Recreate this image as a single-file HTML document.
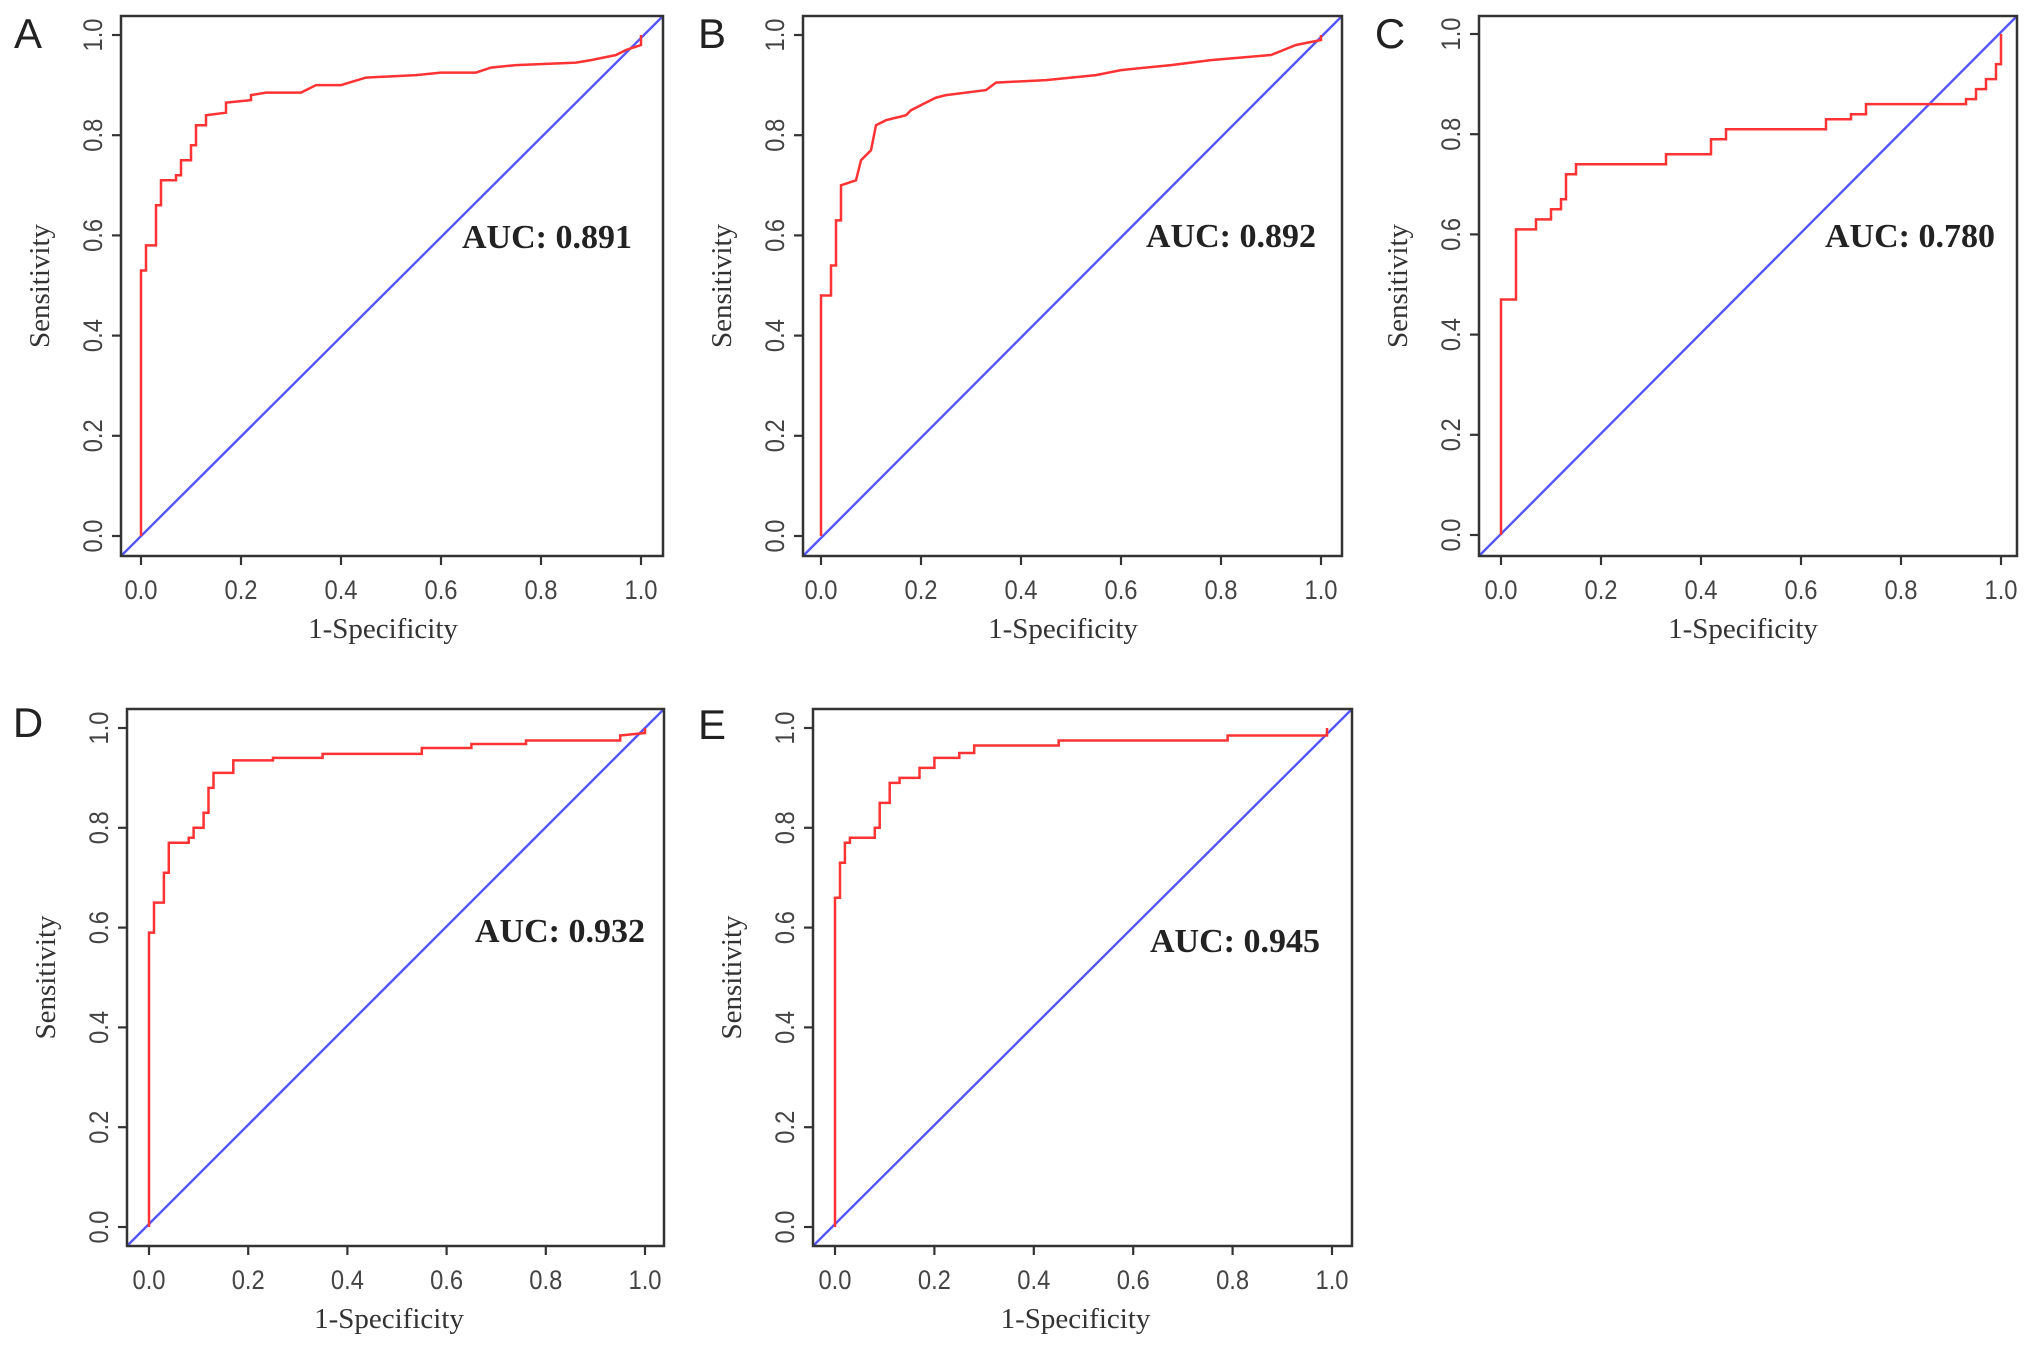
<!DOCTYPE html>
<html><head><meta charset="utf-8"><style>
body{margin:0;background:#fff;width:2031px;height:1350px;overflow:hidden}
svg{display:block}
</style></head><body>
<svg id="fig" width="2031" height="1350" viewBox="0 0 2031 1350" xmlns="http://www.w3.org/2000/svg"></svg>
<script>
const panelLetters = ["A","B","C","D","E"];
const aucLabels = ["AUC: 0.891","AUC: 0.892","AUC: 0.780","AUC: 0.932","AUC: 0.945"];
const tickValues = [0,0.2,0.4,0.6,0.8,1.0];
const tickLabels = ["0.0","0.2","0.4","0.6","0.8","1.0"];
const fprA = [0,0,0.01,0.01,0.03,0.03,0.04,0.04,0.07,0.07,0.08,0.08,0.1,0.1,0.11,0.11,0.13,0.13,0.17,0.17,0.22,0.22,0.25,0.32,0.35,0.4,0.45,0.55,0.6,0.67,0.7,0.75,0.87,0.9,0.95,0.97,1.0,1.0];
const tprA = [0,0.53,0.53,0.58,0.58,0.66,0.66,0.71,0.71,0.72,0.72,0.75,0.75,0.78,0.78,0.82,0.82,0.84,0.845,0.865,0.87,0.88,0.885,0.885,0.9,0.9,0.915,0.92,0.925,0.925,0.935,0.94,0.945,0.95,0.96,0.97,0.98,1.0];
const fprB = [0,0,0.02,0.02,0.03,0.03,0.04,0.04,0.07,0.08,0.1,0.11,0.13,0.17,0.18,0.2,0.23,0.25,0.33,0.35,0.45,0.55,0.6,0.7,0.78,0.9,0.95,1.0,1.0];
const tprB = [0,0.48,0.48,0.54,0.54,0.63,0.63,0.7,0.71,0.75,0.77,0.82,0.83,0.84,0.85,0.86,0.875,0.88,0.89,0.905,0.91,0.92,0.93,0.94,0.95,0.96,0.98,0.99,1.0];
const fprC = [0,0,0.03,0.03,0.07,0.07,0.1,0.1,0.12,0.12,0.13,0.13,0.15,0.15,0.33,0.33,0.42,0.42,0.45,0.45,0.65,0.65,0.7,0.7,0.73,0.73,0.93,0.93,0.95,0.95,0.97,0.97,0.99,0.99,1.0,1.0];
const tprC = [0,0.47,0.47,0.61,0.61,0.63,0.63,0.65,0.65,0.67,0.67,0.72,0.72,0.74,0.74,0.76,0.76,0.79,0.79,0.81,0.81,0.83,0.83,0.84,0.84,0.86,0.86,0.87,0.87,0.89,0.89,0.91,0.91,0.94,0.94,1.0];
const fprD = [0,0,0.01,0.01,0.03,0.03,0.04,0.04,0.08,0.08,0.09,0.09,0.11,0.11,0.12,0.12,0.13,0.13,0.17,0.17,0.25,0.25,0.35,0.35,0.55,0.55,0.65,0.65,0.76,0.76,0.95,0.95,1.0,1.0];
const tprD = [0,0.59,0.59,0.65,0.65,0.71,0.71,0.77,0.77,0.78,0.78,0.8,0.8,0.83,0.83,0.88,0.88,0.91,0.91,0.935,0.935,0.94,0.94,0.948,0.948,0.96,0.96,0.968,0.968,0.975,0.975,0.985,0.99,1.0];
const fprE = [0,0,0.01,0.01,0.02,0.02,0.03,0.03,0.08,0.08,0.09,0.09,0.11,0.11,0.13,0.13,0.17,0.17,0.2,0.2,0.25,0.25,0.28,0.28,0.45,0.45,0.79,0.79,0.99,0.99];
const tprE = [0,0.66,0.66,0.73,0.73,0.77,0.77,0.78,0.78,0.8,0.8,0.85,0.85,0.89,0.89,0.9,0.9,0.92,0.92,0.94,0.94,0.95,0.95,0.965,0.965,0.975,0.975,0.985,0.985,1.0];
const fprSeries = [fprA,fprB,fprC,fprD,fprE];
const tprSeries = [tprA,tprB,tprC,tprD,tprE];

const layout = [
 {L:121,R:663,T:16,B:556,x0:141,x1:641,y0:536,y1:35,lx:28,ly:33},
 {L:803,R:1342,T:16,B:556,x0:821,x1:1321,y0:536,y1:35,lx:712,ly:33},
 {L:1479,R:2017,T:16,B:556,x0:1501,x1:2001,y0:535,y1:34,lx:1390,ly:33},
 {L:127,R:664,T:709,B:1246,x0:149,x1:645,y0:1227,y1:728,lx:28,ly:722},
 {L:813,R:1352,T:709,B:1246,x0:835,x1:1332,y0:1227,y1:728,lx:712,ly:724}
];
const NS="http://www.w3.org/2000/svg";
const svg=document.getElementById('fig');
function mk(tag,attrs,parent){const e=document.createElementNS(NS,tag);for(const k in attrs)e.setAttribute(k,attrs[k]);(parent||svg).appendChild(e);return e;}
const auxPos=[[462,237],[1146,236],[1825,236],[475,931],[1150,941]];
layout.forEach((p,i)=>{
  const g=mk('g',{});
  
  
  const sx=v=>p.x0+v*(p.x1-p.x0);
  const sy=v=>p.y0+v*(p.y1-p.y0);
  const d=mk('line',{x1:p.L,y1:p.B,x2:p.R,y2:p.T,stroke:'#5555ff','stroke-width':2.4},g);
  
  
  const fx=fprSeries[i],ty=tprSeries[i];
  const pts=fx.map((v,k)=>sx(v).toFixed(1)+','+sy(ty[k]).toFixed(1)).join(' ');
  const c=mk('polyline',{points:pts,fill:'none',stroke:'#ff3333','stroke-width':2.5},g);
  
  
  const b=mk('rect',{x:p.L,y:p.T,width:p.R-p.L,height:p.B-p.T,fill:'none',stroke:'#333','stroke-width':2.5},g);
  
  
  tickValues.forEach((v,k)=>{
    const X=sx(v);
    mk('line',{x1:X,y1:p.B,x2:X,y2:p.B+9,stroke:'#333','stroke-width':2.2},g);
    const t=mk('text',{x:X,y:p.B+43,'text-anchor':'middle','font-family':'Liberation Sans, sans-serif','font-size':27,fill:'#444',transform:`translate(${X},0) scale(0.88,1) translate(${-X},0)`},g);
    t.textContent=tickLabels[k];
    
    
    const Y=sy(v);
    mk('line',{x1:p.L,y1:Y,x2:p.L-9,y2:Y,stroke:'#333','stroke-width':2.2},g);
    const ty2=mk('text',{x:0,y:0,'text-anchor':'middle','font-family':'Liberation Sans, sans-serif','font-size':27,fill:'#444',transform:`translate(${p.L-19},${Y}) rotate(-90) scale(0.88,1)`},g);
    ty2.textContent=tickLabels[k];
    
    
  });
  const xt=mk('text',{x:(p.x0+p.x1)/2-8,y:p.B+82,'text-anchor':'middle','font-family':'Liberation Serif, serif','font-size':29,fill:'#333'},g);
  xt.textContent='1-Specificity';
  
  
  const yt=mk('text',{x:0,y:0,'text-anchor':'middle','font-family':'Liberation Serif, serif','font-size':29,fill:'#333',transform:`translate(${p.L-72},${(p.T+p.B)/2}) rotate(-90)`},g);
  yt.textContent='Sensitivity';
  
  
  const a=mk('text',{x:auxPos[i][0],y:auxPos[i][1]+11,'font-family':'Liberation Serif, serif','font-size':34,'font-weight':'bold',fill:'#222'},g);
  a.textContent=aucLabels[i];
  
  
  const l=mk('text',{x:p.lx,y:p.ly+15,'text-anchor':'middle','font-family':'Liberation Sans, sans-serif','font-size':42,fill:'#222'},g);
  l.textContent=panelLetters[i];
  
  
});
</script>
</body></html>
